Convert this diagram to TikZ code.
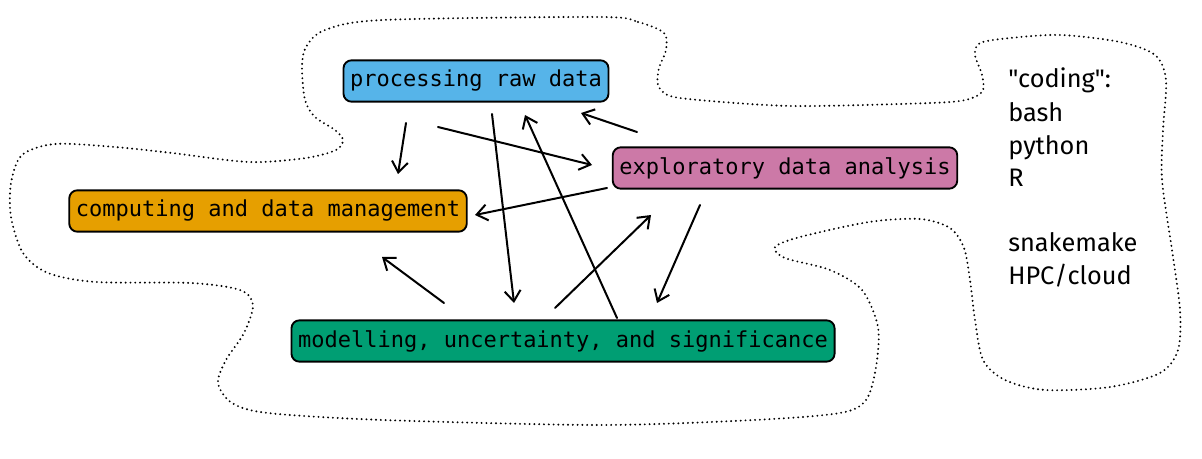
\documentclass[tikz,border=0pt]{standalone}
\usepackage{fontspec}
\setmonofont{DejaVu Sans Mono}
\newfontfamily\handfont{Fira Sans}
\usetikzlibrary{arrows.meta}
\definecolor{skyblue}{HTML}{56B4E9}
\definecolor{pinkish}{HTML}{CC79A7}
\definecolor{orangey}{HTML}{E69F00}
\definecolor{greenish}{HTML}{009E73}
\tikzset{
  topic/.style={draw=black,line width=1.4pt,rounded corners=6pt,inner xsep=5pt,
    minimum height=31pt,font=\ttfamily\fontsize{16.5pt}{18pt}\selectfont},
  arr/.style={-{Straight Barb[length=8pt,width=12pt]},line width=1.5pt,line cap=round},
  blob/.style={line width=1.6pt,dash pattern=on 0pt off 3.6pt,line cap=round}
}

\begin{document}
\begin{tikzpicture}[x=0.75pt,y=-0.75pt]
\useasboundingbox (0,0) rectangle (1202,459);
% the dotted outline round everything
\draw[blob] plot[smooth cycle] coordinates {
  (600,17) (638,22) (664,33) (666,50) (659,68) (658,85) (670,96) (710,101)
  (792,106) (900,104) (960,101) (982,92) (982,75) (975,55) (980,43) (1010,38)
  (1061,35) (1120,42) (1155,55) (1166,80) (1163,130) (1162,180) (1172,250)
  (1180,310) (1178,350) (1160,373) (1110,387) (1045,390) (1005,380) (983,360)
  (975,320) (970,280) (964,248) (950,228) (920,219) (869,222) (800,237)
  (775,247) (785,258) (830,270) (862,290) (878,327) (876,367) (866,400)
  (840,413) (754,420) (600,425) (383,420) (268,413) (232,403) (218,383)
  (226,360) (244,333) (253,305) (240,290) (191,283) (96,282) (48,273)
  (23,253) (11,217) (11,183) (22,155) (55,144) (115,147) (172,153) (249,162)
  (306,158) (336,150) (343,140) (335,130) (315,117) (305,100) (302,67)
  (306,47) (325,30) (383,20)};

\node[topic,fill=skyblue] (proc) at (476,81) {processing raw data};
\node[topic,fill=pinkish] (eda) at (785,168) {exploratory data analysis};
\node[topic,fill=orangey] (comp) at (268,211) {computing and data management};
\node[topic,fill=greenish] (model) at (563,341) {modelling, uncertainty, and significance};

% arrow ends
\coordinate (p1) at (406,123);  \coordinate (c1) at (398,174);
\coordinate (p2) at (438,127);  \coordinate (e1) at (592,165);
\coordinate (p3) at (492,114);  \coordinate (m1) at (514,303);
\coordinate (m2) at (617,318);  \coordinate (p4) at (525,115);
\coordinate (e2) at (637,132);  \coordinate (p5) at (581,113);
\coordinate (e3) at (607,188);  \coordinate (c2) at (475,215);
\coordinate (m3) at (444,303);  \coordinate (c3) at (382,257);
\coordinate (m4) at (555,308);  \coordinate (e4) at (651,215);
\coordinate (e5) at (700,205);  \coordinate (m5) at (657,303);

\draw[arr] (p1) -- (c1);
\draw[arr] (p2) -- (e1);
\draw[arr] (p3) -- (m1);
\draw[arr] (m2) -- (p4);
\draw[arr] (e2) -- (p5);
\draw[arr] (e3) -- (c2);
\draw[arr] (m3) -- (c3);
\draw[arr] (m4) -- (e4);
\draw[arr] (e5) -- (m5);

% tools list on the right
\foreach \t/\y [count=\i] in {"coding":/88,bash/122,python/155,R/187,snakemake/252,HPC\slash cloud/285}
  \node[anchor=base west,inner sep=0pt,font=\handfont\fontsize{19pt}{23pt}\selectfont] (tool\i) at (1008,\y) {\t};
\end{tikzpicture}
\end{document}
